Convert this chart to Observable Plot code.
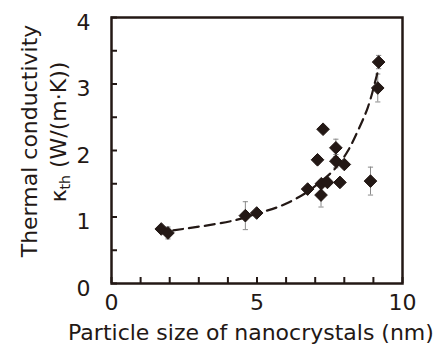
<!DOCTYPE html>
<html>
<head>
<meta charset="utf-8">
<script src="https://cdn.jsdelivr.net/npm/d3@7"></script>
<script src="https://cdn.jsdelivr.net/npm/@observablehq/plot@0.6"></script>
<style>
  html, body { margin: 0; padding: 0; background: #fff; }
  #chart { width: 446px; height: 346px; }
</style>
</head>
<body>
<div id="chart"></div>
<script>
// Measured points: particle size (nm), thermal conductivity, error
const sizes = [1.71, 1.94, 4.60, 4.99, 6.74, 7.08, 7.27, 7.20, 7.21, 7.42, 7.71, 7.71, 8.00, 7.85, 8.90, 9.18, 9.15];
const kappa = [0.82, 0.76, 1.02, 1.06, 1.42, 1.86, 2.32, 1.33, 1.50, 1.52, 2.04, 1.84, 1.79, 1.52, 1.54, 3.33, 2.94];
const errs  = [0.04, 0.09, 0.21, 0.03, 0.04, 0.06, 0.05, 0.18, 0.05, 0.04, 0.13, 0.10, 0.04, 0.03, 0.21, 0.10, 0.21];

// Dashed fit curve
const fitX = [2.12, 3.09, 4.23, 4.99, 5.72, 6.52, 7.10, 7.67, 8.13, 8.47, 8.81, 9.04, 9.16];
const fitY = [0.80, 0.86, 0.95, 1.05, 1.15, 1.32, 1.50, 1.72, 2.00, 2.30, 2.65, 3.00, 3.20];

const xTicks = [0, 5, 10];
const xMinor = [0, 1, 2, 3, 4, 5, 6, 7, 8, 9, 10];
const yTicks = [0, 1, 2, 3, 4];
const yMinor = [0, 0.5, 1, 1.5, 2, 2.5, 3, 3.5, 4];

const ink = "#231815";
const font = "'DejaVu Sans', 'Noto Sans', sans-serif";
const fs = 22;

const points = sizes.map((x, i) => ({x, y: kappa[i], e: errs[i]}));
const caps = points.flatMap(d => [{x: d.x, y: d.y - d.e}, {x: d.x, y: d.y + d.e}]);
const fit = fitX.map((x, i) => ({x, y: fitY[i]}));

// horizontal dash symbol for error bar caps
const capSymbol = {
  draw(context, size) {
    const r = Math.sqrt(size / Math.PI);
    context.moveTo(-r, 0);
    context.lineTo(r, 0);
  }
};

const mL = 111, mR = 44, mT = 17, mB = 63;

const plot = Plot.plot({
  width: 446,
  height: 346,
  marginLeft: mL,
  marginRight: mR,
  marginTop: mT,
  marginBottom: mB,
  style: {fontFamily: font, fontSize: fs + "px", color: ink, background: "#fff", overflow: "visible"},
  x: {domain: [0, 10]},
  y: {domain: [0, 4]},
  marks: [
    // error bars
    Plot.ruleX(points, {x: "x", y1: d => d.y - d.e, y2: d => d.y + d.e, stroke: "#8a8a8a", strokeWidth: 1}),
    Plot.dot(caps, {x: "x", y: "y", symbol: capSymbol, r: 2.6, stroke: "#8a8a8a", strokeWidth: 1, fill: "none"}),
    // fit curve
    Plot.line(fit, {x: "x", y: "y", curve: "natural", stroke: ink, strokeWidth: 2.2, strokeDasharray: "10,6"}),
    // points
    Plot.dot(points, {x: "x", y: "y", symbol: "diamond2", r: 5.7, fill: ink, stroke: ink, strokeWidth: 1}),
    // inward ticks
    Plot.axisX({ticks: xMinor, tickSize: -6, text: null, stroke: ink, strokeWidth: 2, label: null}),
    Plot.axisY({ticks: yMinor, tickSize: -6, text: null, stroke: ink, strokeWidth: 2, label: null}),
    // tick labels
    Plot.axisX({ticks: xTicks, tickFormat: "d", tickSize: 0, tickPadding: 11, fill: ink, fontSize: fs, label: null}),
    Plot.axisY({ticks: yTicks, tickFormat: "d", tickSize: 0, tickPadding: 21, dy: 5, fill: ink, fontSize: fs, label: null}),
    Plot.frame({stroke: ink, strokeWidth: 2.5})
  ]
});

document.getElementById("chart").appendChild(plot);

// axis titles
const svg = d3.select(plot);
svg.append("text")
  .attr("x", 251)
  .attr("y", 340)
  .attr("text-anchor", "middle")
  .attr("fill", ink)
  .style("font-family", font)
  .style("font-size", fs + "px")
  .text("Particle size of nanocrystals (nm)");

const cy = 141;
svg.append("text")
  .attr("transform", `translate(37,${cy}) rotate(-90)`)
  .attr("text-anchor", "middle")
  .attr("fill", ink)
  .style("font-family", font)
  .style("font-size", fs + "px")
  .text("Thermal conductivity");

const t2 = svg.append("text")
  .attr("transform", `translate(66,${cy - 9}) rotate(-90)`)
  .attr("text-anchor", "middle")
  .attr("fill", ink)
  .style("font-family", font)
  .style("font-size", fs + "px");
t2.append("tspan").text("κ");
t2.append("tspan").attr("dy", 4).style("font-size", "14px").text("th");
t2.append("tspan").attr("dy", -4).text(" (W/(m·K))");
</script>
</body>
</html>
